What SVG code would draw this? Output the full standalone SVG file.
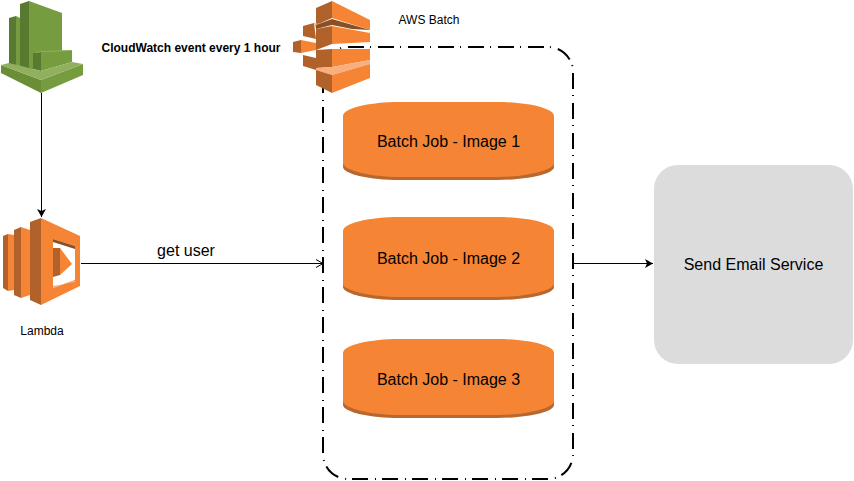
<svg xmlns="http://www.w3.org/2000/svg" width="854" height="481" viewBox="0 0 854 481">
<style>
text{font-family:"Liberation Sans",Arial,sans-serif;fill:#000}
.job{fill:#F58534}.jobd{fill:#B8672F}
.o{fill:#F58534}.d{fill:#B0622A}.b{fill:#8A4F22}.l{fill:#F9AE7D}
.go{fill:#759C3E}.gd{fill:#577A30}.gm{fill:#6A8E38}.gl{fill:#91B05E}
.line{fill:none;stroke:#000;stroke-width:1}
.dash{fill:none;stroke:#000;stroke-width:2;stroke-dasharray:16 6 1 7}
.t{font-size:16px;text-anchor:middle}
.s{font-size:12px;text-anchor:middle}
</style>
<defs>
<marker id="fill" markerUnits="userSpaceOnUse" markerWidth="12" markerHeight="12" refX="8" refY="5" orient="auto"><path d="M0 0.5 L8 5 L0 9.5 L2 5Z" fill="#000"/></marker>
<marker id="open" markerUnits="userSpaceOnUse" markerWidth="12" markerHeight="12" refX="8" refY="5" orient="auto"><path d="M1 1 L8 5 L1 9" fill="none" stroke="#000" stroke-width="1"/></marker>
</defs>
<g id="batch-boundary"><path class="dash" d="M348 47 H548 A25 25 0 0 1 573 72 V454 A25 25 0 0 1 548 479 H348 A25 25 0 0 1 323 454 V72 A25 25 0 0 1 348 47Z"/></g>
<g id="cloudwatch">
<path class="gd" d="M9 18 L16 16 L16 66 L9 65Z"/><path class="go" d="M16 16 L20 18 L20 66 L16 66Z"/>
<path class="gd" d="M20 4 L29 1 L29 69 L20 69Z"/>
<path class="go" d="M29 1 L62 13 L62 51 L33 53 L33 69 L29 69Z"/>
<path class="gd" d="M33 53 L41 52 L41 71 L33 69Z"/>
<path class="go" d="M41 52 L72 50 L72 62 L41 71Z"/>
<path class="gl" d="M33 53 L41 51 L72 50 L72 51 L41 52Z"/>
<path class="gm" d="M1 65 L41 80 L41 93 L1 73Z"/>
<path class="go" d="M41 80 L83 64 L83 75 L41 93Z"/>
<path class="gl" d="M1 65 L9 63 L33 69 L41 71 L72 62 L83 64 L41 80Z"/>
</g>
<g id="aws-batch">
<path class="d" d="M316 8 L332 1 L332 18 L316 25Z"/><path class="o" d="M332 1 L370 20 L370 30 L332 18Z"/>
<path class="d" d="M303 26 L314 23 L316 39 L303 36Z"/>
<path class="l" d="M314 23 L327 25 L316 29Z"/>
<path class="b" d="M316 25 L332 19 L370 30 L352 29 L332 25 L316 29Z"/>
<path class="d" d="M316 29 L332 26 L332 44 L316 50Z"/><path class="o" d="M332 26 L370 33 L370 42 L332 44Z"/>
<path class="d" d="M293 42 L301 40 L301 53 L293 52Z"/><path class="o" d="M301 40 L316 43 L316 50 L301 53Z"/>
<path class="d" d="M303 55 L316 58 L316 70 L303 66Z"/>
<path class="d" d="M316 50 L332 49 L332 67 L316 68Z"/><path class="o" d="M332 49 L370 49 L370 60 L332 67Z"/>
<path class="l" d="M316 68 L332 67 L370 60 L370 64 L332 75 L316 70Z"/>
<path class="d" d="M316 70 L332 75 L332 93 L316 85Z"/><path class="o" d="M332 75 L370 64 L370 78 L332 93Z"/>
</g>
<g id="lambda">
<path class="d" d="M3 236 L8 234 L8 291 L3 288Z"/><path class="o" d="M8 234 L14 235 L14 290 L8 291Z"/>
<path class="d" d="M14 230 L21 227 L21 298 L14 295Z"/><path class="o" d="M21 227 L30 230 L30 295 L21 298Z"/>
<path class="d" d="M30 222 L41 218 L41 305 L30 300Z"/>
<path fill-rule="evenodd" class="o" d="M41 218 L80 236 L80 286 L41 305Z M53 239 L53 288 L75 280 L75 246Z"/>
<path class="b" d="M53 239 L75 246 L75 249 L53 242Z"/>
<path class="l" d="M53 288 L75 280 L75 282 L53 286Z"/>
<path class="d" d="M53 248 L60 248 L60 275 L53 277Z"/><path class="o" d="M60 248 L72 264 L60 275Z"/>
</g>
<g id="job1"><path class="jobd" d="M343 116 V167 C343 174 370 180 400 180 H497 C527 180 554 174 554 167 V116Z"/><path class="job" d="M343 116 C343 108 370 102 400 102 H497 C527 102 554 108 554 116 V163 C554 170 527 177 497 177 H400 C370 177 343 170 343 163Z"/><text class="t" x="448.500" y="147">Batch Job - Image 1</text></g>
<g id="job2"><path class="jobd" d="M343 231 V287 C343 294 370 300 400 300 H497 C527 300 554 294 554 287 V231Z"/><path class="job" d="M343 231 C343 223 370 217 400 217 H497 C527 217 554 223 554 231 V284 C554 290 527 297 497 297 H400 C370 297 343 290 343 284Z"/><text class="t" x="448.500" y="264">Batch Job - Image 2</text></g>
<g id="job3"><path class="jobd" d="M343 353 V405 C343 412 370 418 400 418 H497 C527 418 554 412 554 405 V353Z"/><path class="job" d="M343 353 C343 345 370 339 400 339 H497 C527 339 554 345 554 353 V401 C554 408 527 415 497 415 H400 C370 415 343 408 343 401Z"/><text class="t" x="448.500" y="385">Batch Job - Image 3</text></g>
<g id="email"><rect x="654" y="165" width="199" height="199" rx="24" fill="#DCDCDC"/><text class="t" x="753.500" y="270">Send Email Service</text></g>
<g id="connectors">
<path class="line" d="M41.500 93 V217" marker-end="url(#fill)"/>
<path class="line" d="M81 263.500 H323" marker-end="url(#open)"/>
<path class="line" d="M574 263.500 H653" marker-end="url(#fill)"/>
</g>
<g id="labels">
<text x="191" y="52" style="font-size:12px;font-weight:700;text-anchor:middle">CloudWatch event every 1 hour</text>
<text class="s" x="429" y="24">AWS Batch</text>
<text class="s" x="42" y="335">Lambda</text>
<text x="186" y="256" style="font-size:16px;text-anchor:middle">get user</text>
</g>
</svg>
